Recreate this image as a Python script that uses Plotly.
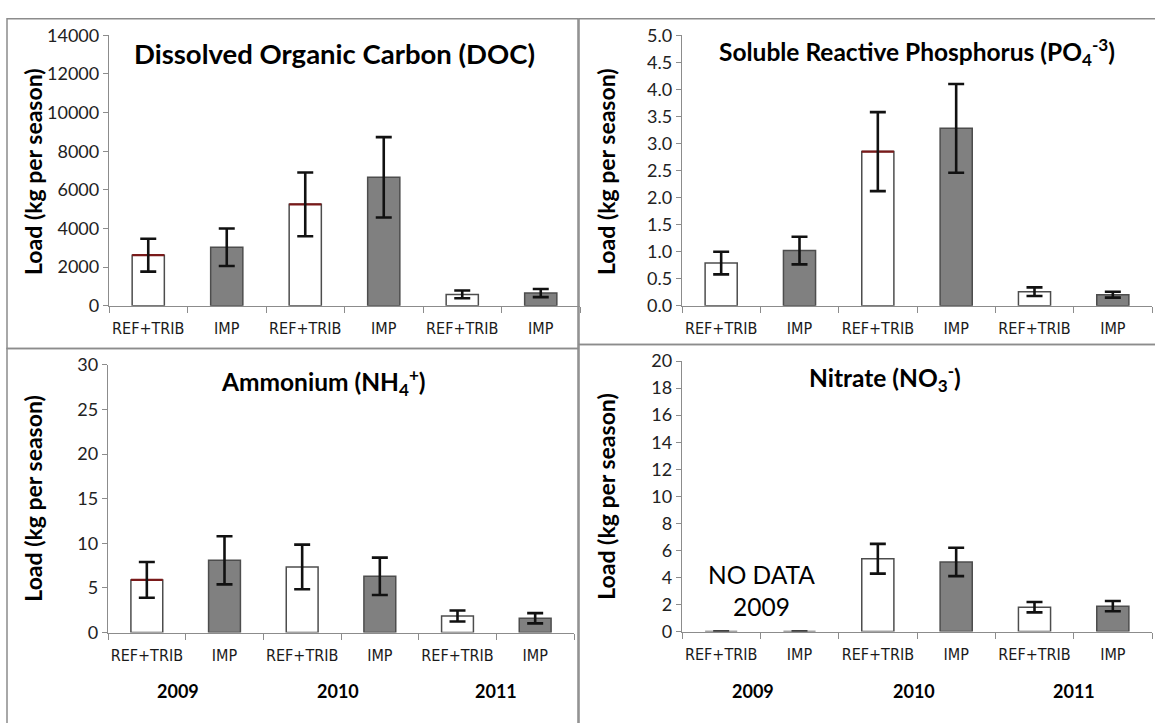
import plotly.graph_objects as go

W, H = 1155, 723

categories = ["REF+TRIB", "IMP", "REF+TRIB", "IMP", "REF+TRIB", "IMP"]
years = ["2009", "2010", "2011"]

doc_values = [2620, 3030, 5250, 6650, 590, 660]
doc_errors = [850, 970, 1650, 2080, 200, 210]
doc_red = [True, False, True, False, False, False]

srp_values = [0.79, 1.02, 2.85, 3.28, 0.26, 0.205]
srp_errors = [0.21, 0.255, 0.73, 0.82, 0.08, 0.055]
srp_red = [False, False, True, False, False, False]

nh4_values = [5.9, 8.1, 7.35, 6.3, 1.85, 1.6]
nh4_errors = [2.0, 2.7, 2.5, 2.1, 0.62, 0.58]
nh4_red = [True, False, False, False, False, False]

no3_values = [0, 0, 5.38, 5.15, 1.8, 1.88]
no3_errors = [0, 0, 1.1, 1.05, 0.38, 0.38]
no3_red = [False, False, False, False, False, False]

bar_colors = ["#ffffff", "#808080", "#ffffff", "#808080", "#ffffff", "#808080"]

FONT = "Lato, Open Sans, sans-serif"
NARROW = "Liberation Sans Narrow, Arial Narrow, DejaVu Sans Condensed, sans-serif"

def px_x(p):
    return p / W

def px_y(p):
    return 1 - p / H

panels = [
    dict(name="DOC", values=doc_values, errors=doc_errors, red=doc_red,
         xd=[109, 580], yd=[24, 303], yr=[0, 14000], dt=2000, fmt="d",
         title="Dissolved Organic Carbon (DOC)", tx=334, ty=43, tsize=27.5,
         ytx=33, yty=165, years=False),
    dict(name="SRP", values=srp_values, errors=srp_errors, red=srp_red,
         xd=[682, 1152], yd=[24, 303], yr=[0, 5], dt=0.5, fmt=".1f",
         title="Soluble Reactive Phosphorus (PO<sub>4</sub><sup>-3</sup>)", tx=917, ty=41, tsize=24.5,
         ytx=606, yty=165, years=False),
    dict(name="NH4", values=nh4_values, errors=nh4_errors, red=nh4_red,
         xd=[108, 574], yd=[364, 640], yr=[0, 30], dt=5, fmt="d",
         title="Ammonium (NH<sub>4</sub><sup>+</sup>)", tx=323, ty=382, tsize=24.5,
         ytx=33, yty=502, years=True),
    dict(name="NO3", values=no3_values, errors=no3_errors, red=no3_red,
         xd=[682, 1152], yd=[360, 639], yr=[0, 20], dt=2, fmt="d",
         title="Nitrate (NO<sub>3</sub><sup>-</sup>)", tx=885, ty=377, tsize=24.5,
         ytx=606, yty=500, years=True),
]

year_offsets = [-0.1, -0.04, 0.0]

fig = go.Figure()
xs = list(range(len(categories)))
bar_width = 0.41

annotations = []
shapes = []

for i, p in enumerate(panels):
    k = "" if i == 0 else str(i + 1)
    xa, ya = "x" + k, "y" + k
    fig.add_trace(go.Bar(
        x=xs, y=p["values"], width=bar_width, xaxis=xa, yaxis=ya,
        marker=dict(color=bar_colors, line=dict(color="#4d4d4d", width=1.5)),
        showlegend=False, hoverinfo="skip"))
    rx = [x for x, r in zip(xs, p["red"]) if r]
    ry = [v for v, r in zip(p["values"], p["red"]) if r]
    if rx:
        cat_px = (p["xd"][1] - p["xd"][0]) / len(categories)
        fig.add_trace(go.Scatter(
            x=rx, y=ry, mode="markers", xaxis=xa, yaxis=ya,
            marker=dict(symbol="line-ew", size=bar_width * cat_px / 1.4,
                        line=dict(color="#7a1a1a", width=2.2)),
            showlegend=False, hoverinfo="skip"))
    fig.add_trace(go.Scatter(
        x=xs, y=p["values"], mode="markers", xaxis=xa, yaxis=ya,
        marker=dict(size=1, color="rgba(0,0,0,0)"),
        error_y=dict(type="data", array=p["errors"], visible=True,
                     color="#111111", thickness=2.6, width=8),
        showlegend=False, hoverinfo="skip"))

    fig.update_layout(**{
        "xaxis" + k: dict(
            domain=[px_x(p["xd"][0]), px_x(p["xd"][1])],
            anchor=ya, range=[-0.5, 5.5], tickmode="array", tickvals=xs,
            ticktext=categories, ticks="", showline=True, linecolor="#8c8c8c",
            linewidth=1.3, showgrid=False, zeroline=False, ticklabelstandoff=8,
            tickfont=dict(family=NARROW, size=16, color="#1a1a1a"),
            minor=dict(tickmode="array", tickvals=[x + 0.5 for x in [-1] + xs],
                       ticks="outside", ticklen=6, tickcolor="#8c8c8c", tickwidth=1.2),
            fixedrange=True),
        "yaxis" + k: dict(
            domain=[px_y(p["yd"][1]), px_y(p["yd"][0])],
            anchor=xa, range=p["yr"], dtick=p["dt"], tick0=0, tickformat=p["fmt"],
            ticks="outside", ticklen=5, tickcolor="#8c8c8c", tickwidth=1.2,
            showline=True, linecolor="#8c8c8c", linewidth=1.3,
            showgrid=False, zeroline=False,
            tickfont=dict(family=FONT, size=18, color="#222222"),
            fixedrange=True),
    })

    annotations.append(dict(
        text="<b>" + p["title"] + "</b>", x=px_x(p["tx"]), y=px_y(p["ty"]),
        xref="paper", yref="paper", showarrow=False, xanchor="center", yanchor="middle",
        font=dict(family=FONT, size=p["tsize"], color="#000000")))
    annotations.append(dict(
        text="<b>Load (kg per season)</b>", x=px_x(p["ytx"]), y=px_y(p["yty"]),
        xref="paper", yref="paper", showarrow=False, textangle=-90,
        xanchor="center", yanchor="middle",
        font=dict(family=FONT, size=23, color="#000000")))
    if p["years"]:
        for j, yr in enumerate(years):
            annotations.append(dict(
                text="<b>" + yr + "</b>", x=2 * j + 0.5 + year_offsets[j], y=px_y(700),
                xref=xa, yref="paper", showarrow=False, xanchor="center", yanchor="middle",
                font=dict(family=FONT, size=18, color="#000000")))

annotations.append(dict(
    text="NO DATA<br>2009", x=0.52, y=3.0, xref="x4", yref="y4", showarrow=False,
    xanchor="center", yanchor="middle", align="center",
    font=dict(family=FONT, size=24.5, color="#000000")))

border = dict(type="rect", xref="paper", yref="paper",
              line=dict(color="#8c8c8c", width=1.5), fillcolor="rgba(0,0,0,0)", layer="below")
shapes.append(dict(border, x0=px_x(7), x1=px_x(578), y0=px_y(347), y1=px_y(7)))
shapes.append(dict(border, x0=px_x(579), x1=1.01, y0=px_y(343), y1=px_y(7)))
shapes.append(dict(border, x0=px_x(7), x1=px_x(578), y0=-0.02, y1=px_y(347)))
shapes.append(dict(border, x0=px_x(579), x1=1.01, y0=-0.02, y1=px_y(343)))

fig.update_layout(
    width=W, height=H, margin=dict(l=0, r=0, t=0, b=0),
    paper_bgcolor="#ffffff", plot_bgcolor="rgba(0,0,0,0)",
    annotations=annotations, shapes=shapes, bargap=0.59, showlegend=False,
)

fig.write_html("out.html", config={"displayModeBar": False})
